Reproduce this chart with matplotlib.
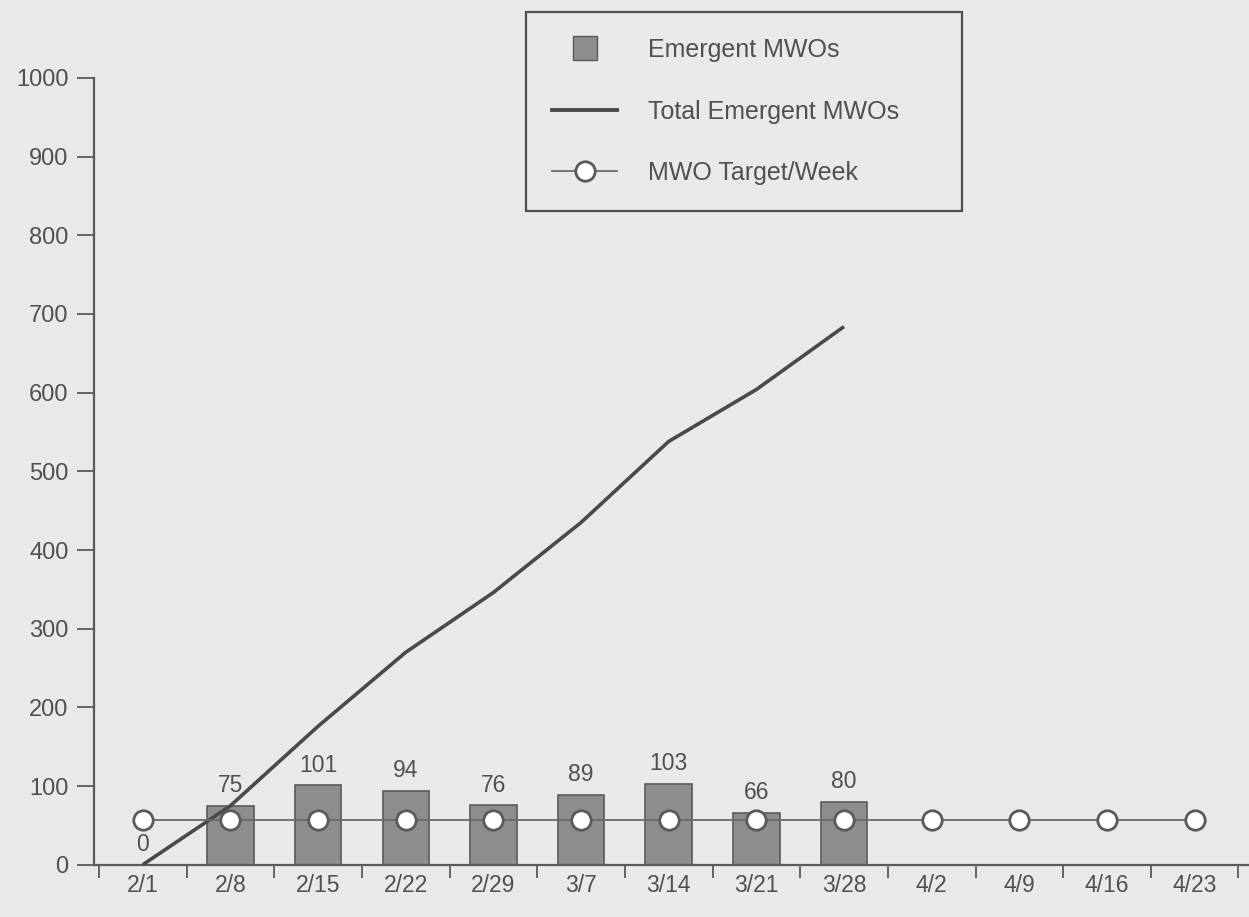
import matplotlib
matplotlib.use("Agg")
import matplotlib.pyplot as plt
from matplotlib.lines import Line2D
from matplotlib.ticker import FixedLocator

weeks = ["2/1", "2/8", "2/15", "2/22", "2/29", "3/7", "3/14", "3/21", "3/28",
         "4/2", "4/9", "4/16", "4/23"]
emergent = [0, 75, 101, 94, 76, 89, 103, 66, 80]
total_emergent = [0, 75, 176, 270, 346, 435, 538, 604, 684]
target = [57] * 13
y_ticks = [0, 100, 200, 300, 400, 500, 600, 700, 800, 900, 1000]

BG = "#e9e9e9"
TXT = "#505050"
plt.rcParams["font.family"] = ["Liberation Sans", "DejaVu Sans"]

fig = plt.figure(figsize=(12.49, 9.17), dpi=100, facecolor=BG)
ax = fig.add_axes([0.075, 0.057, 0.925, 0.858], facecolor=BG)

x_all = list(range(len(weeks)))
x_em = x_all[:len(emergent)]

ax.bar(x_em[1:], emergent[1:], width=0.53, color="#8d8d8d", edgecolor="#5a5a5a",
       linewidth=1.2, zorder=2)
for xi, v in zip(x_em, emergent):
    ax.annotate(str(v), (xi, v), xytext=(0, 6), textcoords="offset points",
                ha="center", va="bottom", fontsize=16.5, color=TXT, zorder=5)

ax.plot(x_em, total_emergent, color="#4a4a4a", lw=2.6, zorder=3,
        solid_capstyle="butt")
ax.plot(x_all, target, color="#6a6a6a", lw=1.3, marker="o", markersize=14,
        markerfacecolor="white", markeredgecolor="#5a5a5a", markeredgewidth=2,
        zorder=4)

ax.set_xlim(-0.56, 12.62)
ax.set_ylim(0, 1000)
ax.set_yticks(y_ticks)
ax.set_yticklabels([str(t) for t in y_ticks])
ax.set_xticks(x_all)
ax.set_xticklabels(weeks)
ax.xaxis.set_minor_locator(FixedLocator([i + 0.5 for i in range(-1, 13)]))
ax.tick_params(axis="x", which="major", length=0, pad=7, labelsize=16.5,
               labelcolor=TXT)
ax.tick_params(axis="x", which="minor", length=9, width=1.3, color="#5a5a5a",
               direction="out")
ax.tick_params(axis="y", length=12, width=1.3, color="#5a5a5a", pad=6,
               labelsize=17, labelcolor=TXT)
for s in ["top", "right"]:
    ax.spines[s].set_visible(False)
for s in ["left", "bottom"]:
    ax.spines[s].set_color("#5a5a5a")
    ax.spines[s].set_linewidth(1.6)

handles = [
    Line2D([], [], marker="s", linestyle="none", markersize=17,
           markerfacecolor="#8d8d8d", markeredgecolor="#5a5a5a"),
    Line2D([], [], color="#4a4a4a", lw=2.8),
    Line2D([], [], color="#6a6a6a", lw=1.3, marker="o", markersize=14,
           markerfacecolor="white", markeredgecolor="#5a5a5a",
           markeredgewidth=2),
]
labels = ["Emergent MWOs", "Total Emergent MWOs", "MWO Target/Week"]
leg = fig.legend(handles, labels, loc="upper left",
                 bbox_to_anchor=(0.421, 0.987, 0.349, 0.0), mode="expand",
                 fontsize=18, labelcolor=TXT, frameon=True, fancybox=False,
                 edgecolor="#505050", facecolor=BG, framealpha=1,
                 handlelength=2.6, handletextpad=1.25, labelspacing=1.5,
                 borderpad=1.05, borderaxespad=0)
leg.get_frame().set_linewidth(1.6)

fig.savefig("out.png", dpi=100, facecolor=BG)
